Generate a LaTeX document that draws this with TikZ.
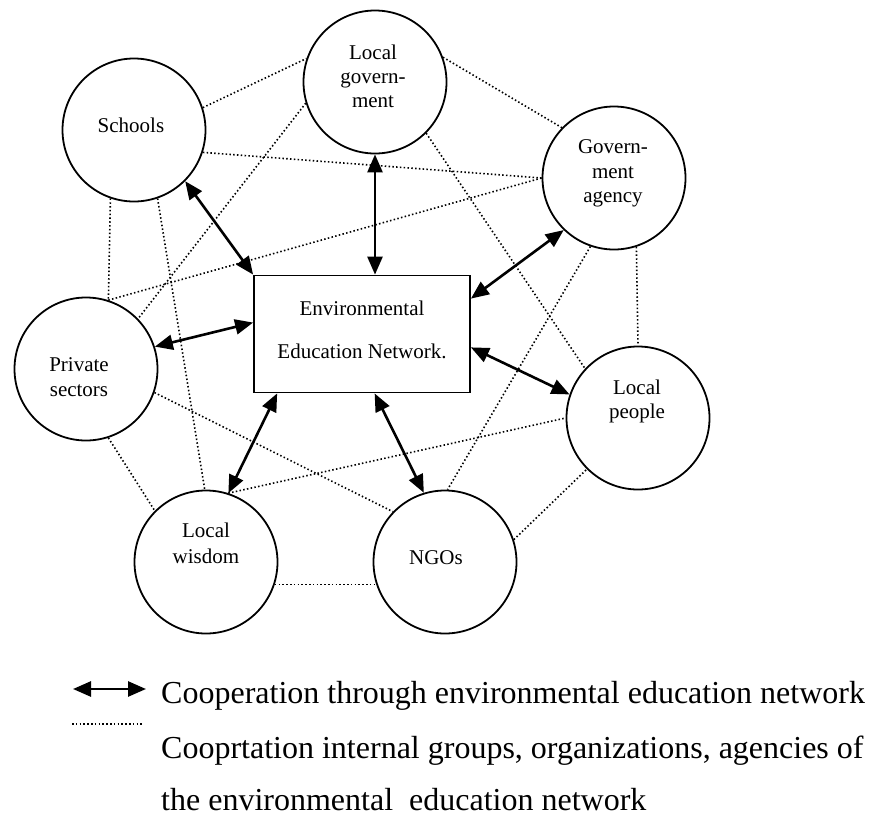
\documentclass[tikz,border=0pt]{standalone}
\usepackage{fontspec}
\setmainfont{Liberation Serif}
\usetikzlibrary{arrows.meta}
\begin{document}
\begin{tikzpicture}[x=1pt,y=-1pt,
  circ/.style={draw, circle, line width=1.8pt, minimum size=143pt, inner sep=0pt},
  box/.style={draw, rectangle, line width=1.8pt, minimum width=216pt, minimum height=117pt, inner sep=0pt},
  lbl/.style={anchor=base, inner sep=0pt, font=\fontsize{21}{25}\selectfont},
  leg/.style={anchor=base west, inner sep=0pt, font=\fontsize{32}{38}\selectfont},
  coop/.style={line width=2.6pt, {Triangle[length=18pt,width=15pt]}-{Triangle[length=18pt,width=15pt]}},
  intern/.style={line width=1.6pt, dash pattern=on 1.5pt off 2.3pt}]
\useasboundingbox (0,0) rectangle (873,817);
\fill[white] (0,0) rectangle (873,817);

% circles and box
\node[circ] (sch) at (134,130) {};
\node[circ] (lg)  at (375,82)  {};
\node[circ] (ga)  at (614,178) {};
\node[circ] (ps)  at (86,369)  {};
\node[circ] (lw)  at (206,562) {};
\node[circ] (ngo) at (445,562) {};
\node[circ] (lp)  at (638,418) {};
\node[box]  (net) at (362,334) {};

% labels
\node[lbl] (schA) at (131,132) {Schools};
\node[lbl] (lgA) at (373,59) {Local};
\node[lbl] (lgB) at (373,83) {govern-};
\node[lbl] (lgC) at (373,107) {ment};
\node[lbl] (gaA) at (613,153) {Govern-};
\node[lbl] (gaB) at (613,178) {ment};
\node[lbl] (gaC) at (613,202) {agency};
\node[lbl] (psA) at (79,371) {Private};
\node[lbl] (psB) at (79,396) {sectors};
\node[lbl] (lwA) at (206,537) {Local};
\node[lbl] (lwB) at (206,563) {wisdom};
\node[lbl] (ngoA) at (436,564) {NGOs};
\node[lbl] (lpA) at (637,394) {Local};
\node[lbl] (lpB) at (637,418) {people};
\node[lbl] (netA) at (362,315) {Environmental};
\node[lbl] (netB) at (362,358) {Education Network.};

% internal cooperation (dotted)
\draw[intern] (sch.18) -- (lg.161);
\draw[intern] (sch.342) -- (ga.180);
\draw[intern] (ps.72) -- (ga.180);
\draw[intern] (lg.197) -- (ps.44);
\draw[intern] (sch.289) -- (lw.91);
\draw[intern] (sch.251) -- (ps.72);
\draw[intern] (lg.315) -- (lp.137);
\draw[intern] (lg.20) -- (ga.136);
\draw[intern] (ga.288) -- (lp.90);
\draw[intern] (ga.251) -- (ngo.88);
\draw[intern] (ps.341) -- (ngo.136);
\draw[intern] (ps.288) -- (lw.135);
\draw[intern] (lw.72) -- (lp.180);
\draw[intern] (lw.342) -- (ngo.198);
\draw[intern] (ngo.18) -- (lp.225);

% cooperation through network (arrows)
\draw[coop] (sch.315) -- (net.north west);
\draw[coop] (lg.south) -- (lg.south |- net.north);
\draw[coop] (ga.226) -- (net.18.7);
\draw[coop] (ps.18) -- (net.174);
\draw[coop] (net.353) -- (lp.161);
\draw[coop] (net.215) -- (lw.72);
\draw[coop] (net.282) -- (ngo.107);

% legend
\coordinate (la1) at (73,689);
\coordinate (la2) at (146,689);
\draw[coop] (la1) -- (la2);
\coordinate (ld1) at (72,724);
\coordinate (ld2) at (143,724);
\draw[intern] (ld1) -- (ld2);
\node[leg] (legA) at (161,703) {Cooperation through environmental education network};
\node[leg] (legB) at (161,758) {Cooprtation internal groups, organizations, agencies of};
\node[leg] (legC) at (161,810) {the environmental\ \ education network};
\end{tikzpicture}
\end{document}
